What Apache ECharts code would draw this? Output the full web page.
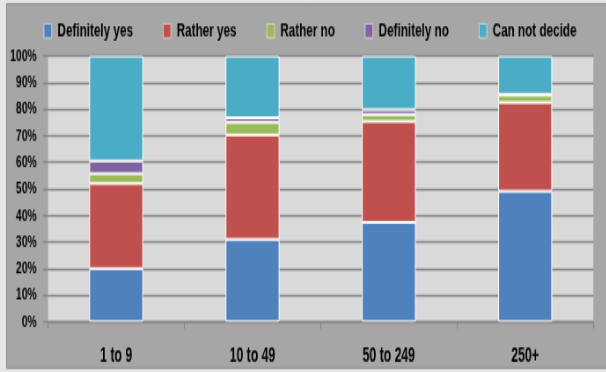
<!DOCTYPE html>
<html>
<head>
<meta charset="utf-8">
<script src="https://cdn.jsdelivr.net/npm/echarts@6/dist/echarts.min.js"></script>
<style>
  html, body { margin: 0; padding: 0; background: #e6e6e6; width: 606px; height: 372px; }
  #frame { position: relative; width: 606px; height: 372px; overflow: visible; }
  /* chart is drawn wide and short, then squeezed and stretched: condensed, tall lettering */
  #chart { position: absolute; left: 0; top: 0; width: 689px; height: 256px; transform: scale(0.88, 1.4531); transform-origin: 0 0; }
</style>
</head>
<body>
<div id="frame"><div id="chart"></div></div>
<script>
const categories = ['1 to 9', '10 to 49', '50 to 249', '250+'];
const seriesNames = ['Definitely yes', 'Rather yes', 'Rather no', 'Definitely no', 'Can not decide'];
const definitelyYes = [20, 31, 37.4, 49.1];
const ratherYes = [32, 39.3, 38, 33.4];
const ratherNo = [3.7, 4.7, 2.6, 2.8];
const definitelyNo = [4.8, 1.8, 1.8, 0.3];
const canNotDecide = [39.5, 23.2, 20.2, 14.4];
const colors = ['#4f81bd', '#c0504d', '#9bbb59', '#8064a2', '#4bacc6'];

const FONT = "'Liberation Sans', Arial, sans-serif";
const SX = 0.88;    // horizontal squeeze
const SY = 1.4531;  // vertical stretch
const px = v => v / SX;  // screen x-distance -> drawing units
const py = v => v / SY;  // screen y-distance -> drawing units

const chart = echarts.init(document.getElementById('chart'), null, { renderer: 'canvas' });
const values = [definitelyYes, ratherYes, ratherNo, definitelyNo, canNotDecide];
const baseText = { fontFamily: FONT, fontWeight: 'bold', color: '#000' };

chart.setOption({
  animation: false,
  backgroundColor: 'transparent',
  graphic: [{
    type: 'rect',
    z: -10,
    shape: { x: px(6.5), y: py(4), width: px(620), height: py(364) },
    style: { fill: '#a6a6a6', stroke: '#858585', lineWidth: 1 }
  }],
  legend: {
    left: px(43.7),
    top: 14.7,
    padding: 0,
    itemGap: px(30),
    itemWidth: px(7.7),
    itemHeight: py(14),
    icon: 'rect',
    itemStyle: { borderColor: '#f4f4f4', borderWidth: 0.6 },
    textStyle: Object.assign({ fontSize: 13.3, padding: [0, 0, 0, px(1.4)] }, baseText),
    data: seriesNames
  },
  grid: {
    left: px(48), right: px(13), top: py(56), bottom: py(372 - 321.7),
    show: true, backgroundColor: '#d9d9d9', borderWidth: 0
  },
  xAxis: {
    type: 'category',
    data: categories,
    axisLine: { lineStyle: { color: '#868686', width: 1.4 } },
    axisTick: { show: true, length: py(7), lineStyle: { color: '#868686', width: px(1) } },
    axisLabel: Object.assign({ margin: 16.5, fontSize: 13.9 }, baseText)
  },
  yAxis: {
    type: 'value',
    min: 0, max: 100, interval: 10,
    axisLine: { show: false },
    axisTick: { show: true, length: px(5), lineStyle: { color: '#868686', width: 1.4 } },
    splitLine: { lineStyle: { color: '#868686', width: 1.4 } },
    axisLabel: Object.assign({ margin: px(11.3), fontSize: 11.8, formatter: '{value}%' }, baseText)
  },
  series: seriesNames.map((name, i) => ({
    name,
    type: 'bar',
    stack: 'share',
    barWidth: px(54),
    data: values[i],
    itemStyle: { color: colors[i], borderColor: '#ffffff', borderWidth: 1 }
  }))
});
</script>
</body>
</html>
